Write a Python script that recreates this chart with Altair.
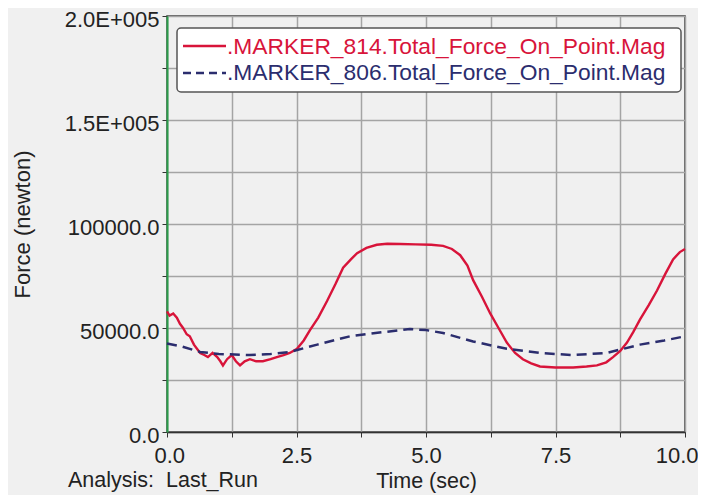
import altair as alt
import pandas as pd

# Data (force values in newton)
t_red = [0.0, 0.05, 0.12, 0.19, 0.25, 0.31, 0.38, 0.44, 0.52, 0.64,
         0.72, 0.79, 0.88, 0.97, 1.03, 1.08, 1.16, 1.25, 1.33, 1.41,
         1.50, 1.60, 1.72, 1.85, 2.0, 2.12, 2.25, 2.37, 2.51, 2.64,
         2.76, 2.92, 3.09, 3.25, 3.40, 3.55, 3.67, 3.85, 4.05, 4.25,
         4.50, 4.80, 5.10, 5.33, 5.50, 5.66, 5.80, 5.91, 6.08, 6.24,
         6.40, 6.56, 6.72, 6.87, 7.03, 7.20, 7.50, 7.84, 8.10, 8.30,
         8.48, 8.61, 8.75, 8.88, 9.00, 9.13, 9.30, 9.46, 9.62, 9.77,
         9.90, 10.0]
f_red = [58000, 56000, 57000, 55000, 52000, 50000, 47000, 46000, 42000, 38000,
         37000, 36000, 38000, 36000, 34000, 32000, 35000, 37000, 34000, 32000,
         34000, 35000, 34000, 34000, 35000, 36000, 37000, 38000, 40000, 44000,
         49000, 55000, 63000, 71000, 79000, 83000, 86000, 88500, 90000, 90500,
         90400, 90200, 90000, 89500, 88000, 85000, 80000, 73000, 65000, 57000,
         50000, 43000, 38000, 35000, 33000, 31500, 31000, 31000, 31500, 32000,
         33500, 36000, 39000, 43000, 48000, 54000, 61000, 68000, 76000, 83000,
         86500, 88000]

t_blue = [0.0, 0.3, 0.64, 1.0, 1.6, 2.0, 2.37, 2.9, 3.53, 4.17,
          4.69, 5.0, 5.33, 5.91, 6.56, 7.2, 7.84, 8.49, 9.13, 9.6, 10.0]
f_blue = [42500, 41000, 38500, 37500, 37000, 37500, 38500, 42000, 46000, 48000,
          49500, 49000, 47600, 43500, 40000, 38000, 37000, 38000, 42000, 44000, 46000]

series_names = [".MARKER_814.Total_Force_On_Point.Mag",
                ".MARKER_806.Total_Force_On_Point.Mag"]
series_colors = ["#d8143a", "#2b2d6e"]

FONT = "Liberation Sans"
W, H = 518, 416

df_red = pd.DataFrame({"t": t_red, "f": f_red})
df_blue = pd.DataFrame({"t": t_blue, "f": f_blue})

x_scale = alt.Scale(domain=[0, 10], nice=False, zero=False)
y_scale = alt.Scale(domain=[0, 200000], nice=False)

x_axis = alt.Axis(
    title="Time (sec)", values=[i * 1.25 for i in range(9)],
    labelExpr="datum.value % 2.5 == 0 ? format(datum.value, '.1f') : ''",
    labelFontSize=22, titleFontSize=21.5, titleFontWeight="normal",
    labelFont=FONT, titleFont=FONT, labelColor="#222", titleColor="#222",
    grid=True, gridColor="#a4a4a4", gridWidth=1.5,
    domainColor="#333", domainWidth=1.5, tickColor="#333", tickSize=5,
    labelPadding=8, labelFlush=True, labelFlushOffset=13, labelOverlap=False,
    titleY=55, titleBaseline="alphabetic",
)
y_axis = alt.Axis(
    title="Force (newton)", values=[i * 25000 for i in range(9)],
    labelExpr=("datum.value == 200000 ? '2.0E+005' : datum.value == 150000 ? '1.5E+005' : "
               "datum.value == 100000 ? '100000.0' : datum.value == 50000 ? '50000.0' : "
               "datum.value == 0 ? '0.0' : ''"),
    labelFontSize=22, titleFontSize=22, titleFontWeight="normal",
    labelFont=FONT, titleFont=FONT, labelColor="#222", titleColor="#222",
    grid=True, gridColor="#a4a4a4", gridWidth=1.5,
    domainColor="#2a9d4a", domainWidth=2, tickColor="#333", tickSize=5,
    labelPadding=3, labelOffset=3, titleX=-145, titleY=H / 2, titleAngle=-90,
    titleAlign="center", titleBaseline="middle", labelOverlap=False,
)

red = alt.Chart(df_red).mark_line(color=series_colors[0], strokeWidth=2.4).encode(
    x=alt.X("t:Q", scale=x_scale, axis=x_axis),
    y=alt.Y("f:Q", scale=y_scale, axis=y_axis),
)
blue = alt.Chart(df_blue).mark_line(
    color=series_colors[1], strokeWidth=2.5, strokeDash=[10, 6]
).encode(x=alt.X("t:Q", scale=x_scale), y=alt.Y("f:Q", scale=y_scale))

one = alt.Data(values=[{"a": 1}])
legend_box = alt.Chart(one).mark_rect(
    fill="#ffffff", stroke="#555555", strokeWidth=1.5, cornerRadius=4
).encode(x=alt.value(10), x2=alt.value(514), y=alt.value(12), y2=alt.value(76))
sym1 = alt.Chart(one).mark_rule(color=series_colors[0], strokeWidth=2.4).encode(
    x=alt.value(16), x2=alt.value(59), y=alt.value(30), y2=alt.value(30))
sym2 = alt.Chart(one).mark_rule(color=series_colors[1], strokeWidth=2.5, strokeDash=[8, 5]).encode(
    x=alt.value(16), x2=alt.value(59), y=alt.value(57), y2=alt.value(57))
txt1 = alt.Chart(one).mark_text(align="left", baseline="middle", fontSize=22.8, font=FONT,
                                color=series_colors[0]).encode(
    x=alt.value(60), y=alt.value(31), text=alt.value(series_names[0]))
txt2 = alt.Chart(one).mark_text(align="left", baseline="middle", fontSize=22.8, font=FONT,
                                color=series_colors[1]).encode(
    x=alt.value(60), y=alt.value(57), text=alt.value(series_names[1]))
analysis = alt.Chart(one).mark_text(align="left", baseline="alphabetic", fontSize=21.5, font=FONT,
                                    color="#222").encode(
    x=alt.value(-99), y=alt.value(471), text=alt.value("Analysis:\u00a0\u00a0Last_Run"))

chart = alt.layer(red, blue, legend_box, sym1, sym2, txt1, txt2, analysis).properties(
    width=W, height=H,
    autosize=alt.AutoSizeParams(type="none"),
    padding={"left": 159, "top": 8, "right": 13, "bottom": 63},
    background="#f0f0f0",
).configure_view(stroke="#333333", strokeWidth=1.5)

chart.save("out.html", embed_options={"renderer": "svg", "actions": False})
